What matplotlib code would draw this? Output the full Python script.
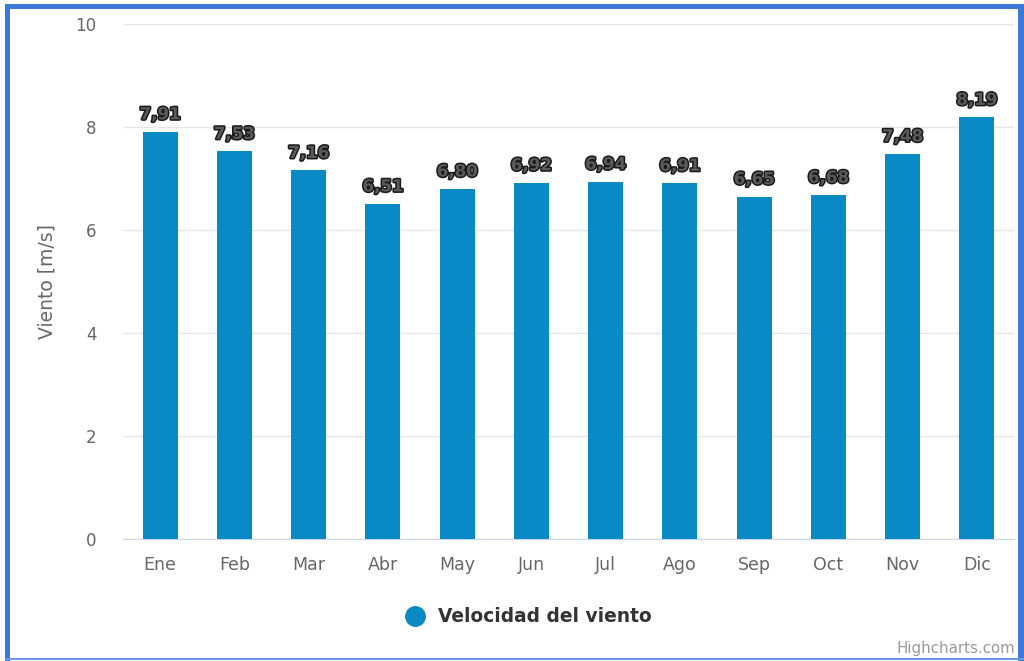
import matplotlib
matplotlib.use('Agg')
import matplotlib.pyplot as plt
import matplotlib.patheffects as pe
from matplotlib.patches import Rectangle
from matplotlib.lines import Line2D

# datos mensuales de velocidad del viento
meses = ['Ene', 'Feb', 'Mar', 'Abr', 'May', 'Jun', 'Jul', 'Ago', 'Sep', 'Oct', 'Nov', 'Dic']
viento = [7.91, 7.53, 7.16, 6.51, 6.80, 6.92, 6.94, 6.91, 6.65, 6.68, 7.48, 8.19]
yticks = [0, 2, 4, 6, 8, 10]

W, H = 1024, 661
fig = plt.figure(figsize=(W / 100, H / 100), dpi=100)
ax = fig.add_axes([123 / W, 1 - 539 / H, 891 / W, 515 / H])

x = list(range(len(meses)))
ax.bar(x, viento, width=0.47, color='#0a8ac4', zorder=3)
ax.set_xlim(-0.5, len(meses) - 0.5)
ax.set_ylim(0, 10)

# etiquetas de valor con contorno
for xi, v in zip(x, viento):
    ax.annotate(f'{v:.2f}'.replace('.', ','), (xi, v), xytext=(0, 6),
                textcoords='offset points', ha='center', va='bottom',
                fontsize=12, fontweight='bold', color='#5a5a5a', zorder=5,
                path_effects=[pe.withStroke(linewidth=2.2, foreground='#1a1a1a')])

ax.set_yticks(yticks)
ax.set_yticklabels([str(t) for t in yticks])
ax.set_xticks(x)
ax.set_xticklabels(meses)
ax.tick_params(axis='both', length=0, labelcolor='#666666')
ax.tick_params(axis='y', pad=19, labelsize=12)
ax.tick_params(axis='x', pad=12, labelsize=12.5)
ax.grid(axis='y', color='#e6e6e6', linewidth=1, zorder=0)
for s in ['top', 'right', 'left']:
    ax.spines[s].set_visible(False)
ax.spines['bottom'].set_color('#ccd6eb')
ax.set_ylabel('Viento [m/s]', fontsize=13.5, color='#666666', labelpad=14)

# leyenda
fig.add_artist(Line2D([415 / W], [1 - 616 / H], marker='o', markersize=14,
                      color='#0a8ac4', linestyle='none', transform=fig.transFigure))
fig.text(438 / W, 1 - 616 / H, 'Velocidad del viento', fontsize=13.4,
         fontweight='bold', color='#333333', va='center', ha='left')
fig.text(1015 / W, 1 - 648 / H, 'Highcharts.com', fontsize=10.8,
         color='#999999', va='center', ha='right')

# marco azul
azul = '#3b78d8'
fig.add_artist(Rectangle((5 / W, 0), 5 / W, 1 - 4 / H, transform=fig.transFigure,
                         color=azul, lw=0))
fig.add_artist(Rectangle((5 / W, 1 - 9 / H), 1 - 5 / W, 5 / H, transform=fig.transFigure,
                         color=azul, lw=0))
fig.add_artist(Rectangle((1018 / W, 0), 6 / W, 1 - 4 / H, transform=fig.transFigure,
                         color=azul, lw=0))
fig.add_artist(Rectangle((5 / W, 1 / H), 1 - 5 / W, 2 / H, transform=fig.transFigure,
                         color='#6a9be6', lw=0))

fig.savefig('out.png', dpi=100)
